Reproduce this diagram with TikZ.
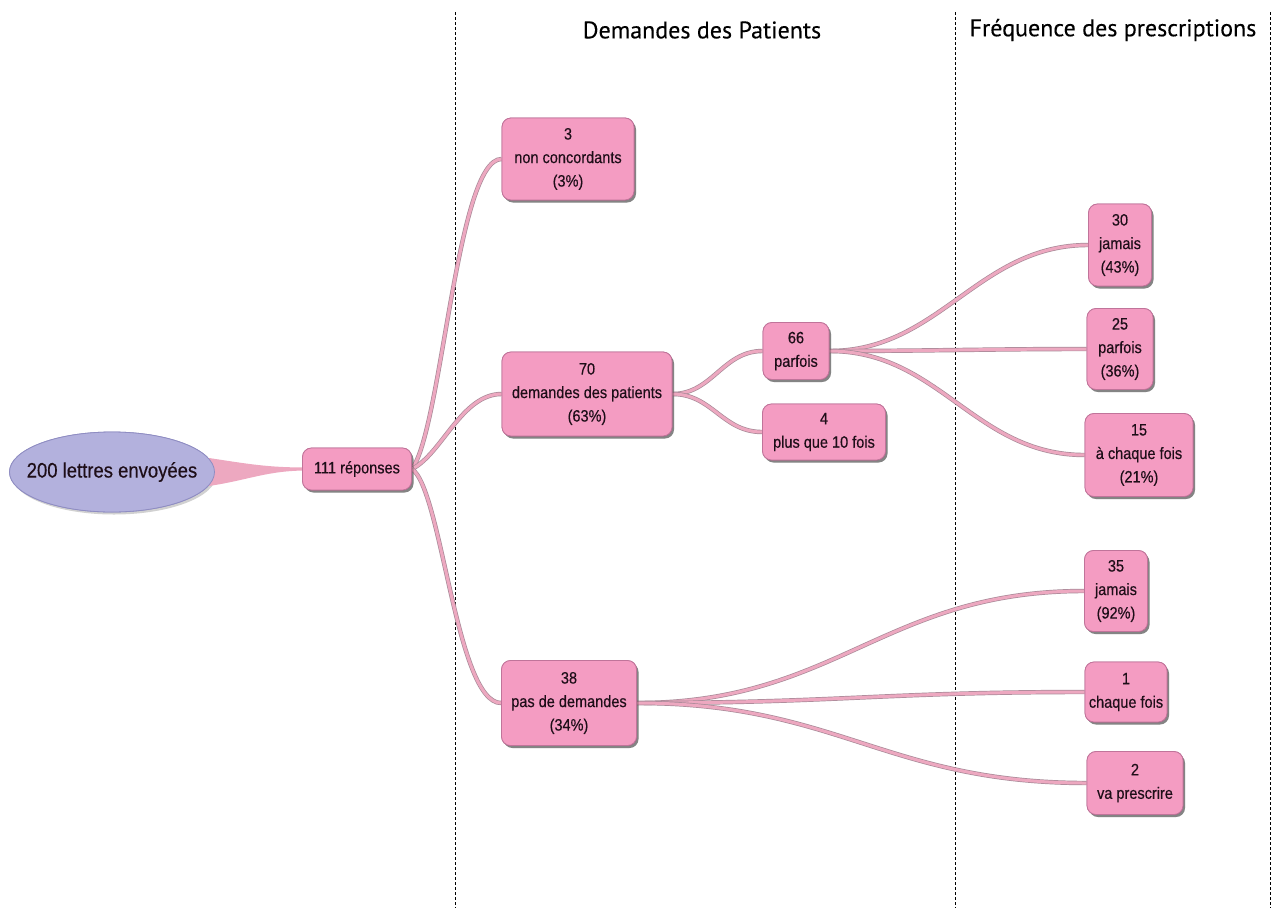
\documentclass[tikz,border=0pt]{standalone}
\usepackage{fontspec}
\setmainfont{Liberation Sans}
\newfontfamily\nodefont[FakeStretch=0.88,FakeBold=0.35]{Liberation Sans}
\newfontfamily\headfont[FakeBold=0.2]{PT Sans}
\usetikzlibrary{shadows,calc,shapes.geometric}
\definecolor{boxpink}{HTML}{F49CC2}
\definecolor{boxedge}{HTML}{C0749A}
\definecolor{conpink}{HTML}{EDA8C0}
\definecolor{conedge}{HTML}{A98A98}
\definecolor{ellfill}{HTML}{B3B1DD}
\definecolor{elledge}{HTML}{8F8DC2}
\definecolor{txt}{HTML}{1E0E18}
\tikzset{
  box/.style={rounded corners=9pt, fill=boxpink, draw=boxedge, line width=0.8pt,
    align=center, text=txt, font=\nodefont\fontsize{16.5}{23.5}\selectfont, inner sep=2pt,
    drop shadow={shadow xshift=2pt, shadow yshift=-2.5pt, fill=black, opacity=0.28}},
  con/.style={draw=conedge, line width=0.7pt, double=conpink, double distance=3pt},
  sep/.style={draw=black, line width=0.7pt, dash pattern=on 3pt off 2pt},
  head/.style={font=\headfont\fontsize{24}{26}\selectfont, text=black},
  ellstyle/.style={ellipse, fill=ellfill, draw=elledge, line width=0.8pt, minimum width=205pt, minimum height=80pt, inner sep=0pt,
  text=txt, font=\nodefont\fontsize{21}{24}\selectfont}
}
\begin{document}
\begin{tikzpicture}[x=1pt,y=-1pt]
\useasboundingbox (0,0) rectangle (1281,908);
\fill[white] (0,0) rectangle (1281,908);
% separators
\draw[sep] (455,12) -- (455,908);
\draw[sep] (955,12) -- (955,908);
\draw[sep] (1270,12) -- (1270,908);
\node[head] (h1) at (702,30) {Demandes des Patients};
\node[head] (h2) at (1113,30) {Fréquence des prescriptions};
% nodes
\node[ellstyle, drop shadow={shadow xshift=2pt, shadow yshift=-2.5pt, fill=black, opacity=0.18}] (ell) at (112,472) {\makebox[120pt][c]{200 lettres envoyées}};
\node[box, minimum width=109pt, minimum height=42pt] (r111) at (357,469) {111 réponses};
\node[box, minimum width=132pt, minimum height=82pt] (nc) at (568,159) {3\\non concordants\\(3\%)};
\node[box, minimum width=170pt, minimum height=84pt] (d70) at (587,394) {70\\demandes des patients\\(63\%)};
\node[box, minimum width=66pt, minimum height=57pt] (p66) at (796,351) {66\\parfois};
\node[box, minimum width=123pt, minimum height=56pt] (p4) at (824,432) {4\\plus que 10 fois};
\node[box, minimum width=63pt, minimum height=82pt] (j30) at (1120,245) {30\\jamais\\(43\%)};
\node[box, minimum width=66pt, minimum height=81pt] (p25) at (1120,349) {25\\parfois\\(36\%)};
\node[box, minimum width=108pt, minimum height=83pt] (c15) at (1139,455) {15\\à chaque fois\\(21\%)};
\node[box, minimum width=63pt, minimum height=81pt] (j35) at (1116,591) {35\\jamais\\(92\%)};
\node[box, minimum width=135pt, minimum height=85pt] (d38) at (569,703) {38\\pas de demandes\\(34\%)};
\node[box, minimum width=82pt, minimum height=60pt] (c1) at (1126,692) {1\\chaque fois};
\node[box, minimum width=96pt, minimum height=63pt] (v2) at (1135,783) {2\\va prescrire};
% taper
\fill[conpink] ([xshift=-6pt,yshift=-14pt]ell.east) .. controls +(40,-6) and +(-40,0) .. ([xshift=5pt,yshift=-1.5pt]r111.west)
  -- ([xshift=5pt,yshift=1.5pt]r111.west) .. controls +(-40,0) and +(40,6) .. ([xshift=-6pt,yshift=14pt]ell.east) -- cycle;
% connectors
\draw[con] (r111.east) .. controls +(30,-40) and +(-45,0) .. (nc.west);
\draw[con] (r111.east) .. controls +(30,-15) and +(-40,0) .. (d70.west);
\draw[con] (r111.east) .. controls +(30,20) and +(-45,0) .. (d38.west);
\draw[con] (d70.east) .. controls +(40,0) and +(-40,0) .. (p66.west);
\draw[con] (d70.east) .. controls +(40,0) and +(-40,0) .. (p4.west);
\draw[con] (p66.east) .. controls +(110,0) and +(-110,0) .. (j30.west);
\draw[con] (p66.east) .. controls +(100,0) and +(-100,0) .. (p25.west);
\draw[con] (p66.east) .. controls +(110,0) and +(-110,0) .. (c15.west);
\draw[con] (d38.east) .. controls +(200,0) and +(-200,0) .. (j35.west);
\draw[con] (d38.east) .. controls +(200,0) and +(-200,0) .. (c1.west);
\draw[con] (d38.east) .. controls +(200,0) and +(-200,0) .. (v2.west);
% redraw nodes on top of connectors
\node[ellstyle] at (ell) {\makebox[120pt][c]{200 lettres envoyées}};
\node[box, minimum width=109pt, minimum height=42pt] at (r111) {111 réponses};
\node[box, minimum width=132pt, minimum height=82pt] at (nc) {3\\non concordants\\(3\%)};
\node[box, minimum width=170pt, minimum height=84pt] at (d70) {70\\demandes des patients\\(63\%)};
\node[box, minimum width=66pt, minimum height=57pt] at (p66) {66\\parfois};
\node[box, minimum width=123pt, minimum height=56pt] at (p4) {4\\plus que 10 fois};
\node[box, minimum width=63pt, minimum height=82pt] at (j30) {30\\jamais\\(43\%)};
\node[box, minimum width=66pt, minimum height=81pt] at (p25) {25\\parfois\\(36\%)};
\node[box, minimum width=108pt, minimum height=83pt] at (c15) {15\\à chaque fois\\(21\%)};
\node[box, minimum width=63pt, minimum height=81pt] at (j35) {35\\jamais\\(92\%)};
\node[box, minimum width=135pt, minimum height=85pt] at (d38) {38\\pas de demandes\\(34\%)};
\node[box, minimum width=82pt, minimum height=60pt] at (c1) {1\\chaque fois};
\node[box, minimum width=96pt, minimum height=63pt] at (v2) {2\\va prescrire};
\end{tikzpicture}
\end{document}
